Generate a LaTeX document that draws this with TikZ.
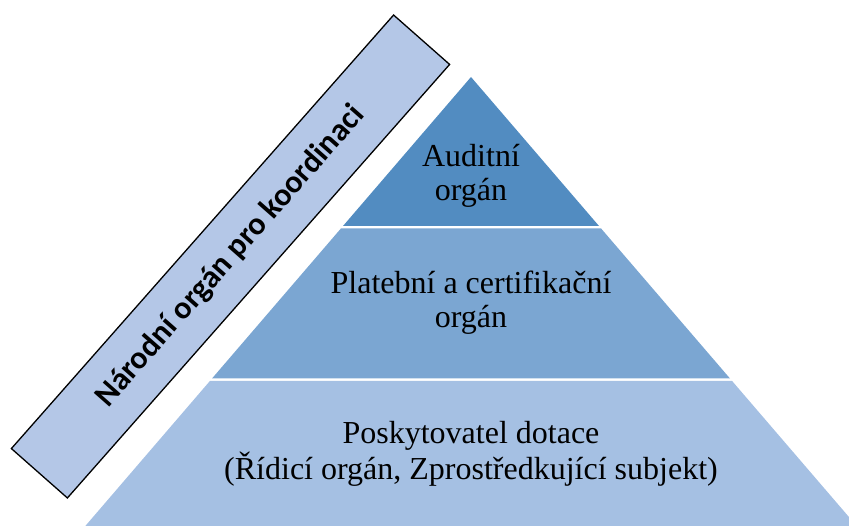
\documentclass[tikz,border=0pt]{standalone}
\usepackage{fontspec}
\setmainfont{Liberation Serif}
\newfontfamily\carlito{Carlito}
\definecolor{topblue}{RGB}{82,140,193}
\definecolor{midblue}{RGB}{123,166,210}
\definecolor{lowblue}{RGB}{165,192,227}
\definecolor{rectblue}{RGB}{180,199,231}
\tikzset{
  lbl/.style={align=center, font=\fontsize{32}{34}\selectfont, text=black, inner sep=0pt}
}
\begin{document}
\begin{tikzpicture}[x=1pt,y=-1pt]
\useasboundingbox (0,0) rectangle (849,526);
\clip (0,0) rectangle (849,526);
% pyramid bands
\fill[topblue] (471,77) -- (343,226) -- (599,226) -- cycle;
\fill[midblue] (340.9,228.5) -- (601.1,228.5) -- (730,378.5) -- (212,378.5) -- cycle;
\fill[lowblue] (209.9,381) -- (732.1,381) -- (868.7,540) -- (73.3,540) -- cycle;
% labels
\node[lbl] (audit) at (471,176) {Auditní\\orgán};
\node[lbl] (plat) at (471,303) {Platební a certifikační\\orgán};
\node[lbl] (posk) at (471,454) {Poskytovatel dotace\\(Řídicí orgán, Zprostředkující subjekt)};
% coordination body
\node[draw=black, line width=1.3pt, fill=rectblue, minimum width=578pt, minimum height=74.7pt,
      rotate=48.6, inner sep=0pt, font=\carlito\bfseries\fontsize{32}{36}\selectfont] (nok) at (230.5,256.5) {Národní orgán pro koordinaci};
\end{tikzpicture}
\end{document}
